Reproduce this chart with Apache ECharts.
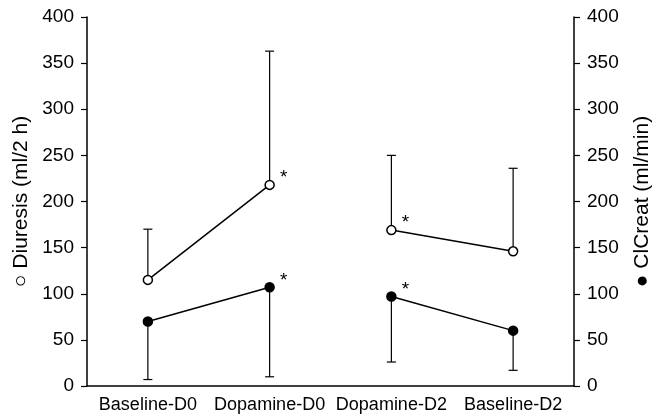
<!DOCTYPE html>
<html>
<head>
<meta charset="utf-8">
<script src="https://cdn.jsdelivr.net/npm/echarts@6/dist/echarts.min.js"></script>
<style>html,body{margin:0;padding:0;background:#fff}#c{width:656px;height:420px}</style>
</head>
<body>
<div id="c"></div>
<script>
const categories = ['Baseline-D0', 'Dopamine-D0', 'Dopamine-D2', 'Baseline-D2'];
const yTicks = [0, 50, 100, 150, 200, 250, 300, 350, 400];
const diuresisMean = [115, 218, 169, 146];
const diuresisUpper = [170, 363, 250, 236];
const clcreatMean = [70, 107, 97, 60];
const clcreatLower = [7, 10, 26, 17];
const diuresisMarks = ['', '*', '*', ''];
const clcreatMarks = ['', '*', '*', ''];

const FONT = 'Liberation Sans, Arial, Helvetica, sans-serif';
const chart = echarts.init(document.getElementById('c'), null, {renderer: 'canvas'});

function segment(arr, idx) {
  return arr.map((v, i) => idx.includes(i) ? v : null);
}
function errorSeries(mean, bound, yAxisIndex) {
  return {
    type: 'custom',
    yAxisIndex: yAxisIndex,
    z: 1,
    silent: true,
    data: mean.map((m, i) => [i, m, bound[i]]),
    renderItem: function (params, api) {
      const p0 = api.coord([api.value(0), api.value(1)]);
      const p1 = api.coord([api.value(0), api.value(2)]);
      const hw = 4.5;
      return {
        type: 'group',
        children: [
          {type: 'line', shape: {x1: p0[0], y1: p0[1], x2: p1[0], y2: p1[1]}, style: {stroke: '#000', lineWidth: 1.2}},
          {type: 'line', shape: {x1: p1[0] - hw, y1: p1[1], x2: p1[0] + hw, y2: p1[1]}, style: {stroke: '#000', lineWidth: 1.2}}
        ]
      };
    }
  };
}
function withMarks(values, marks) {
  return values.map((v, i) => {
    if (v === null) return null;
    const item = {value: v};
    if (marks[i]) {
      item.label = {show: true, formatter: marks[i], position: 'right', distance: 5, offset: [0, -7],
        color: '#000', fontSize: 19, fontFamily: FONT};
    }
    return item;
  });
}
function lineSeries(values, marks, idx, open, yAxisIndex) {
  return {
    type: 'line',
    yAxisIndex: yAxisIndex,
    z: 3,
    data: withMarks(segment(values, idx), marks),
    connectNulls: false,
    symbol: 'circle',
    symbolSize: 9,
    showSymbol: true,
    lineStyle: {color: '#000', width: 1.5},
    itemStyle: {color: open ? '#fff' : '#000', borderColor: '#000', borderWidth: 1.5},
    label: {show: false},
    emphasis: {disabled: true},
    animation: false
  };
}

const yAxisCommon = {
  type: 'value', min: 0, max: 400, interval: 50,
  axisLine: {show: true, lineStyle: {color: '#000', width: 1.5}},
  axisTick: {show: true, inside: false, length: 6, lineStyle: {color: '#000', width: 1.2}},
  splitLine: {show: false},
  axisLabel: {color: '#000', fontSize: 19, fontFamily: FONT, margin: 13,
    formatter: v => yTicks.includes(v) ? String(v) : ''},
  nameLocation: 'middle',
  nameTextStyle: {color: '#000', fontSize: 21, fontFamily: FONT}
};

chart.setOption({
  animation: false,
  backgroundColor: '#fff',
  grid: {left: 87, right: 82, top: 17, bottom: 34, containLabel: false, outerBoundsMode: 'none'},
  xAxis: {
    type: 'category', data: categories, boundaryGap: true,
    axisLine: {lineStyle: {color: '#000', width: 1.5}},
    axisTick: {alignWithLabel: true, length: 6, lineStyle: {color: '#000', width: 1.2}},
    axisLabel: {color: '#000', fontSize: 18, fontFamily: FONT, margin: 10, interval: 0}
  },
  yAxis: [
    Object.assign({}, yAxisCommon, {position: 'left', name: '○ Diuresis (ml/2 h)', nameGap: 55}),
    Object.assign({}, yAxisCommon, {position: 'right', name: '● ClCreat (ml/min)', nameGap: 58, nameRotate: 90})
  ],
  series: [
    errorSeries(diuresisMean, diuresisUpper, 0),
    errorSeries(clcreatMean, clcreatLower, 1),
    lineSeries(diuresisMean, diuresisMarks, [0, 1], true, 0),
    lineSeries(diuresisMean, diuresisMarks, [2, 3], true, 0),
    lineSeries(clcreatMean, clcreatMarks, [0, 1], false, 1),
    lineSeries(clcreatMean, clcreatMarks, [2, 3], false, 1)
  ]
});
</script>
</body>
</html>
